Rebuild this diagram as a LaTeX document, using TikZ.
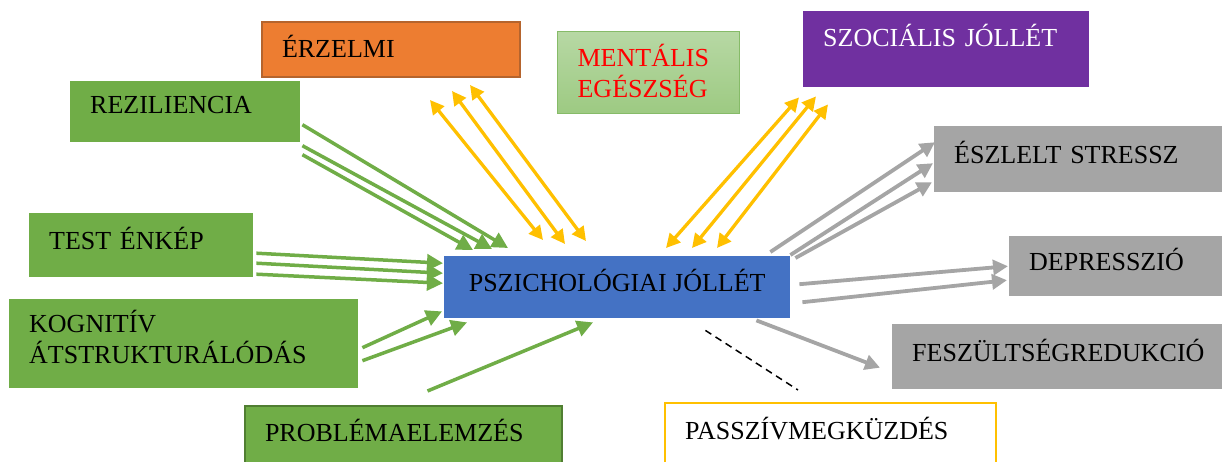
\documentclass[tikz,border=0pt]{standalone}
\usepackage{fontspec}
\setmainfont{Liberation Serif}
\usepackage{tikz}
\usetikzlibrary{arrows.meta,calc}

\definecolor{boxGreen}{HTML}{70AD47}
\definecolor{darkGreen}{HTML}{507E32}
\definecolor{boxOrange}{HTML}{ED7D31}
\definecolor{darkOrange}{HTML}{B5642D}
\definecolor{boxPurple}{HTML}{7030A0}
\definecolor{boxGray}{HTML}{A5A5A5}
\definecolor{boxBlue}{HTML}{4472C4}
\definecolor{gold}{HTML}{FFC000}
\definecolor{menTop}{HTML}{B7D8A4}
\definecolor{menBottom}{HTML}{9DCA82}
\definecolor{menLine}{HTML}{86BB68}

\begin{document}
\begin{tikzpicture}[x=1pt, y=-1pt,
        every node/.style={font=\fontsize{26}{30.5}\selectfont}]
        \tikzstyle{box} = [rectangle, anchor=north west, inner xsep=20pt,
                           inner ysep=0pt, align=left, text depth=13pt]
        \tikzstyle{greenEdge} = [draw=boxGreen, line width=3.5pt,
                                 -{Triangle[length=16pt,width=16pt]}]
        \tikzstyle{yellowEdge} = [draw=gold, line width=3.3pt,
                                  {Triangle[length=14pt,width=14pt]}-{Triangle[length=14pt,width=14pt]}]
        \tikzstyle{grayEdge} = [draw=boxGray, line width=3.8pt,
                                -{Triangle[length=15pt,width=15pt]}]
        \useasboundingbox (0,0) rectangle (1222,461);
        % boxes
        \node[box, fill=boxOrange, draw=darkOrange, line width=2pt,
              text width=218pt, minimum height=55pt, text depth=6pt] (erz) at (261,21) {ÉRZELMI};
        \node[box, fill=boxGreen, text width=190pt, minimum height=61pt] (rez) at (70,81) {REZILIENCIA};
        \node[box, top color=menTop, bottom color=menBottom, draw=menLine, line width=1.2pt,
              text=red, text width=142pt, minimum height=82pt, text depth=34pt] (men) at (557,31) {MENTÁLIS\\EGÉSZSÉG};
        \node[box, fill=boxPurple, text=white, text width=246pt, minimum height=76pt,
              text depth=28pt] (soc) at (803,11) {SZOCIÁLIS JÓLLÉT};
        \node[box, fill=boxGray, text width=248pt, minimum height=66pt] (esz) at (934,126) {ÉSZLELT STRESSZ};
        \node[box, fill=boxGreen, text width=184pt, minimum height=64pt] (test) at (29,213) {TEST ÉNKÉP};
        \node[box, fill=boxBlue, inner xsep=0pt, minimum width=346pt, minimum height=62pt] (psy) at (444,256) {PSZICHOLÓGIAI JÓLLÉT};
        \node[box, fill=boxGray, text width=173pt, minimum height=60pt] (dep) at (1009,236) {DEPRESSZIÓ};
        \node[box, fill=boxGreen, text width=309pt, minimum height=89pt, text depth=44pt] (kog) at (9,299) {KOGNITÍV\\ÁTSTRUKTURÁLÓDÁS};
        \node[box, fill=boxGray, text width=292pt, minimum height=65pt] (fes) at (892,324) {FESZÜLTSÉGREDUKCIÓ};
        \node[box, fill=boxGreen, draw=darkGreen, line width=2pt,
              text width=277pt, minimum height=62pt] (prob) at (244,405) {PROBLÉMAELEMZÉS};
        \node[box, fill=white, draw=gold, line width=2pt,
              text width=291pt, minimum height=64pt] (pas) at (664,402) {PASSZÍVMEGKÜZDÉS};
        % green arrows into psy
        \foreach \a/\b/\c/\d in {2/13/64/-8, 2/34/48/-7, 2/43/29/-6}
            \path[greenEdge] ($(rez.east)+(\a,\b)$) -- ($(psy.north west)+(\c,\d)$);
        \foreach \a/\b/\c/\d in {3/8/-1/-24, 3/18/-1/-14, 3/29/-1/-4}
            \path[greenEdge] ($(test.east)+(\a,\b)$) -- ($(psy.west)+(\c,\d)$);
        \foreach \a/\b/\c/\d in {4/4/-2/-7, 4/17/23/4}
            \path[greenEdge] ($(kog.east)+(\a,\b)$) -- ($(psy.south west)+(\c,\d)$);
        \path[greenEdge] ($(prob.north)+(24,-14)$) -- ($(psy.south west)+(149,4)$);
        % yellow arrows
        \foreach \a/\b/\c/\d in {-91/22/99/-16, -69/13/121/-12, -51/7/142/-15}
            \path[yellowEdge] ($(erz.south east)+(\a,\b)$) -- ($(psy.north west)+(\c,\d)$);
        \foreach \a/\b/\c/\d in {-4/10/222/-8, 13/9/248/-8, 25/17/273/-8}
            \path[yellowEdge] ($(soc.south west)+(\a,\b)$) -- ($(psy.north west)+(\c,\d)$);
        % gray arrows out of psy
        \foreach \a/\b/\c/\d in {-20/-4/1/-17, 0/-1/-1/4, 5/2/-2/23}
            \path[grayEdge] ($(psy.north east)+(\a,\b)$) -- ($(esz.west)+(\c,\d)$);
        \foreach \a/\b/\c/\d in {9/-3/-1/0, 12/15/-2/14}
            \path[grayEdge] ($(psy.east)+(\a,\b)$) -- ($(dep.west)+(\c,\d)$);
        \path[grayEdge] ($(psy.south east)+(-34,2)$) -- ($(fes.west)+(-12,11)$);
        \draw[black, line width=1.5pt, dash pattern=on 7pt off 5pt]
            ($(psy.south east)+(-85,12)$) -- ($(pas.north west)+(134,-12)$);
    \end{tikzpicture}
\end{document}
